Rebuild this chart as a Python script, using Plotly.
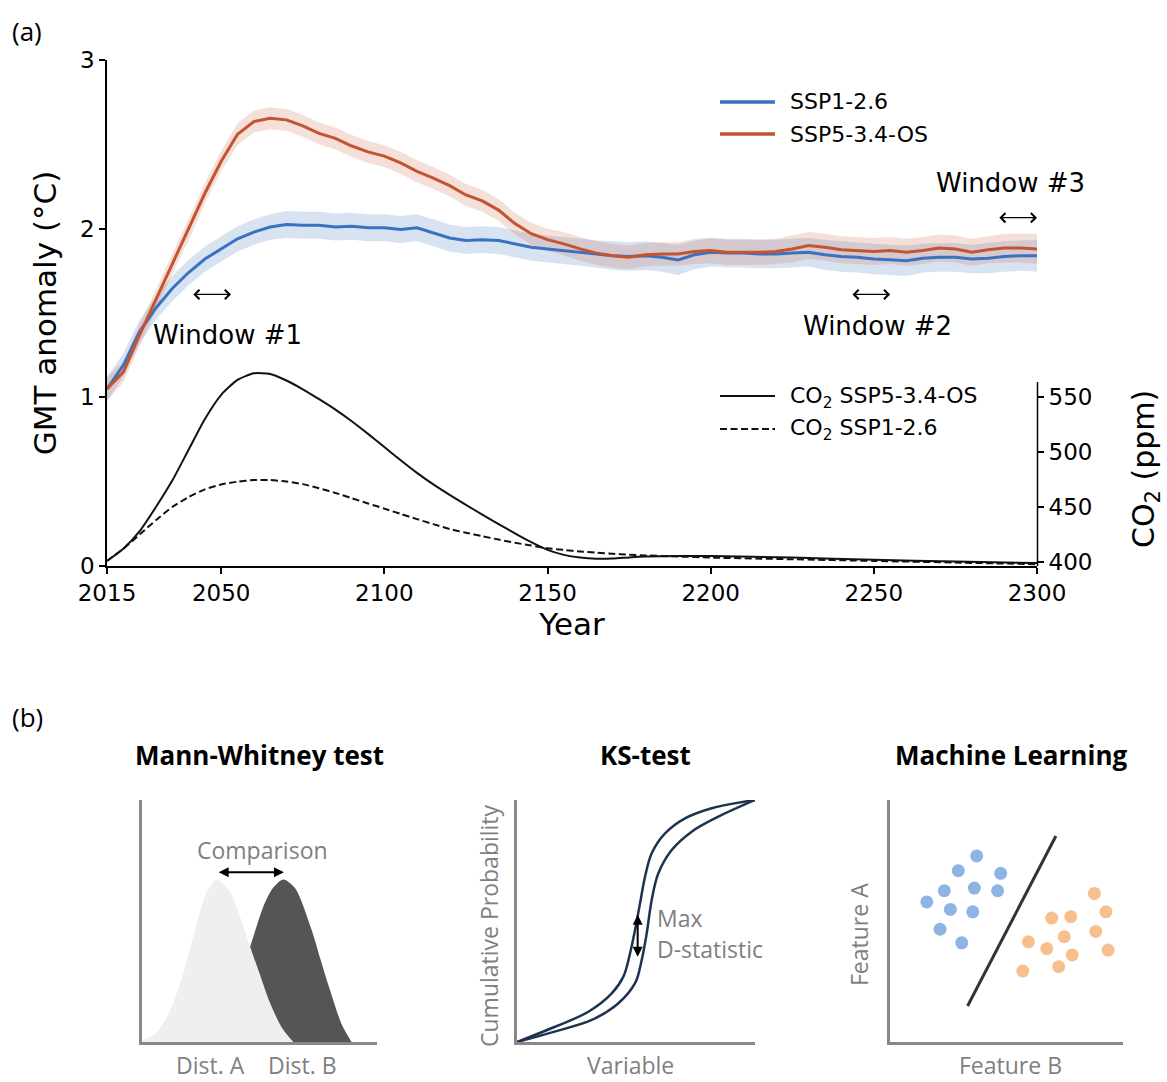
import plotly.graph_objects as go

W, H = 1167, 1082


def fx(p):
    """Horizontal pixel position -> paper fraction."""
    return p / W


def fy(p):
    """Vertical pixel position (from top) -> paper fraction."""
    return 1 - p / H


# ---------------------------------------------------------------- panel (a)
gmt_years = list(range(2015, 2301, 5))

gmt_ssp126 = [
    1.05, 1.19, 1.39, 1.53, 1.645, 1.74, 1.82, 1.88, 1.94, 1.98,
    2.01, 2.025, 2.02, 2.02, 2.01, 2.015, 2.005, 2.005, 1.995, 2.005,
    1.975, 1.945, 1.93, 1.935, 1.93, 1.91, 1.89, 1.88, 1.87, 1.86,
    1.85, 1.84, 1.835, 1.84, 1.83, 1.815, 1.845, 1.86, 1.855, 1.855,
    1.85, 1.85, 1.855, 1.86, 1.845, 1.835, 1.83, 1.82, 1.815, 1.81,
    1.825, 1.83, 1.83, 1.82, 1.825, 1.835, 1.84, 1.84,
]
gmt_ssp534 = [
    1.05, 1.15, 1.37, 1.58, 1.79, 1.99, 2.21, 2.40, 2.56, 2.635,
    2.655, 2.645, 2.61, 2.565, 2.535, 2.49, 2.455, 2.43, 2.39, 2.34,
    2.30, 2.255, 2.20, 2.165, 2.11, 2.03, 1.97, 1.935, 1.91, 1.88,
    1.855, 1.84, 1.83, 1.845, 1.85, 1.85, 1.865, 1.87, 1.86, 1.86,
    1.86, 1.865, 1.88, 1.90, 1.89, 1.875, 1.87, 1.865, 1.87, 1.86,
    1.87, 1.885, 1.88, 1.86, 1.875, 1.885, 1.885, 1.88,
]
spread_ssp126 = [
    0.07, 0.07, 0.07, 0.07, 0.075, 0.075, 0.075, 0.075, 0.075, 0.075,
    0.075, 0.08, 0.08, 0.08, 0.08, 0.08, 0.08, 0.08, 0.08, 0.08,
    0.08, 0.08, 0.08, 0.08, 0.08, 0.08, 0.08, 0.08, 0.08, 0.08,
    0.08, 0.085, 0.085, 0.085, 0.085, 0.09, 0.085, 0.085, 0.085, 0.085,
    0.085, 0.085, 0.085, 0.085, 0.09, 0.09, 0.09, 0.09, 0.09, 0.09,
    0.085, 0.085, 0.085, 0.085, 0.09, 0.09, 0.09, 0.095,
]
spread_ssp534 = [
    0.07, 0.06, 0.06, 0.06, 0.06, 0.06, 0.06, 0.06, 0.065, 0.065,
    0.065, 0.065, 0.065, 0.065, 0.065, 0.065, 0.065, 0.065, 0.065, 0.065,
    0.065, 0.065, 0.065, 0.065, 0.065, 0.065, 0.065, 0.065, 0.07, 0.07,
    0.07, 0.07, 0.07, 0.07, 0.07, 0.07, 0.075, 0.075, 0.075, 0.075,
    0.075, 0.075, 0.08, 0.08, 0.08, 0.08, 0.08, 0.08, 0.08, 0.08,
    0.08, 0.08, 0.08, 0.08, 0.08, 0.085, 0.085, 0.09,
]

co2_years = [2015, 2020, 2025, 2030, 2035, 2040, 2045, 2050, 2055, 2060,
             2065, 2070, 2075, 2080, 2085, 2090, 2095, 2100, 2105, 2110,
             2115, 2120, 2125, 2130, 2135, 2140, 2145, 2150, 2155, 2160,
             2165, 2170, 2175, 2180, 2190, 2200, 2225, 2250, 2275, 2300]
co2_ssp534 = [401, 412, 428, 450, 474, 502, 530, 552, 565.5, 571.5,
              571, 565, 557, 548, 538.5, 528, 516.5, 504.5, 492.5, 481,
              470.5, 461, 452, 443, 434.5, 426, 418, 411, 406.5, 404,
              403, 403.2, 404.2, 405, 405.5, 405.5, 404, 402, 400.5, 399]
co2_ssp126 = [401, 412, 425, 438, 450, 459, 466, 470.5, 473, 474.5,
              474.5, 473.2, 470.8, 467, 462.8, 458, 453.2, 448.5, 443.7, 439,
              434.4, 430, 426.6, 423.5, 420.4, 417.5, 415, 412.5, 411, 409.5,
              408.5, 407.5, 406.7, 406, 405, 404, 402.5, 401, 399.5, 398]

year_ticks = [2015, 2050, 2100, 2150, 2200, 2250, 2300]
gmt_ticks = [0, 1, 2, 3]
co2_ticks = [400, 450, 500, 550]

window_starts = [2041, 2243, 2288]
window_ends = [2053, 2255, 2300]
window_arrow_gmt = [1.61, 1.61, 2.065]
window_labels = ["Window #1", "Window #2", "Window #3"]
window_label_year = [2052, 2251, 2292]
window_label_gmt = [1.37, 1.42, 2.27]

# ---------------------------------------------------------------- panel (b)
mw_a_x = [0.0, 0.5, 1.0, 1.4, 1.76, 2.33, 2.77, 3.2, 3.75, 4.2, 4.6, 5.05, 5.45, 5.96, 6.44]
mw_a_y = [0.05, 0.3, 0.91, 1.8, 2.84, 4.9, 6.24, 6.72, 6.2, 5.1, 3.94, 2.7, 1.61, 0.58, 0.0]
mw_b_x = [2.04, 2.7, 3.32, 3.75, 4.17, 4.6, 5.16, 5.57, 6.01, 6.51, 7.22, 7.6, 8.0, 8.51, 8.92]
mw_b_y = [0.05, 0.6, 1.32, 2.0, 2.77, 3.93, 5.59, 6.36, 6.72, 6.36, 4.63, 3.4, 2.15, 0.7, 0.0]

ks_1_x = [0, 1.6, 3.0, 3.98, 4.47, 4.75, 4.96, 5.17, 5.38, 5.66, 6.22, 7.06, 8.18, 10]
ks_1_y = [0, 0.63, 1.25, 2.01, 2.7, 3.67, 4.63, 5.73, 6.83, 7.8, 8.62, 9.24, 9.66, 10]
ks_2_x = [0, 1.58, 3.14, 4.26, 4.96, 5.24, 5.45, 5.66, 5.94, 6.5, 7.34, 8.46, 10]
ks_2_y = [0, 0.43, 0.91, 1.6, 2.43, 3.39, 4.49, 5.87, 6.97, 7.93, 8.69, 9.31, 10]

ml_blue_x = [3.72, 2.93, 4.75, 2.33, 3.62, 4.62, 1.58, 2.59, 3.55, 2.15, 3.08]
ml_blue_y = [7.69, 7.08, 6.97, 6.25, 6.36, 6.25, 5.79, 5.48, 5.38, 4.66, 4.10]
ml_orange_x = [8.77, 9.27, 6.94, 7.76, 8.83, 7.48, 5.94, 6.73, 9.36, 7.82, 7.24, 5.70]
ml_orange_y = [6.14, 5.38, 5.12, 5.18, 4.57, 4.35, 4.14, 3.86, 3.80, 3.60, 3.11, 2.93]
ml_boundary_x = [3.33, 7.12]
ml_boundary_y = [1.49, 8.51]

# ---------------------------------------------------------------- styling
BLUE = "#3a72c0"
ORANGE = "#c4532f"
BLUE_FILL = "rgba(58,114,192,0.20)"
ORANGE_FILL = "rgba(196,83,47,0.18)"
GRAY_TXT = "#7f7f7f"
GRAY_AX = "#888888"
MPL_FONT = "DejaVu Sans"
SKETCH_FONT = "Open Sans"

fig = go.Figure()


def band(years, mid, spread, color, name):
    upper = [m + s for m, s in zip(mid, spread)]
    lower = [m - s for m, s in zip(mid, spread)]
    return go.Scatter(
        x=years + years[::-1], y=upper + lower[::-1], fill="toself",
        fillcolor=color, line=dict(width=0), mode="lines",
        hoverinfo="skip", showlegend=False, name=name,
        xaxis="x", yaxis="y",
    )


fig.add_trace(band(gmt_years, gmt_ssp126, spread_ssp126, BLUE_FILL, "SSP1-2.6 range"))
fig.add_trace(band(gmt_years, gmt_ssp534, spread_ssp534, ORANGE_FILL, "SSP5-3.4-OS range"))
fig.add_trace(go.Scatter(x=gmt_years, y=gmt_ssp126, mode="lines", name="SSP1-2.6",
                         line=dict(color=BLUE, width=3), showlegend=False,
                         xaxis="x", yaxis="y"))
fig.add_trace(go.Scatter(x=gmt_years, y=gmt_ssp534, mode="lines", name="SSP5-3.4-OS",
                         line=dict(color=ORANGE, width=3), showlegend=False,
                         xaxis="x", yaxis="y"))
fig.add_trace(go.Scatter(x=co2_years, y=co2_ssp534, mode="lines", name="CO2 SSP5-3.4-OS",
                         line=dict(color="#111111", width=2, shape="spline", smoothing=0.6),
                         showlegend=False, xaxis="x", yaxis="y2"))
fig.add_trace(go.Scatter(x=co2_years, y=co2_ssp126, mode="lines", name="CO2 SSP1-2.6",
                         line=dict(color="#111111", width=2, shape="spline", smoothing=0.6,
                                   dash="7px,3.5px"),
                         showlegend=False, xaxis="x", yaxis="y2"))

# Mann-Whitney sketch: dark distribution behind the light one
fig.add_trace(go.Scatter(x=mw_b_x, y=mw_b_y, mode="lines", fill="tozeroy",
                         fillcolor="#555555", line=dict(width=0, shape="spline", smoothing=0.8),
                         showlegend=False, hoverinfo="skip", xaxis="x3", yaxis="y3"))
fig.add_trace(go.Scatter(x=mw_a_x, y=mw_a_y, mode="lines", fill="tozeroy",
                         fillcolor="#efefef", line=dict(width=0, shape="spline", smoothing=0.8),
                         showlegend=False, hoverinfo="skip", xaxis="x3", yaxis="y3"))

# KS sketch: two cumulative curves
for cx, cy in ((ks_1_x, ks_1_y), (ks_2_x, ks_2_y)):
    fig.add_trace(go.Scatter(x=cx, y=cy, mode="lines",
                             line=dict(color="#1d3350", width=2.5, shape="spline"),
                             showlegend=False, hoverinfo="skip", xaxis="x4", yaxis="y4"))

# Machine learning sketch: two clusters and a boundary
fig.add_trace(go.Scatter(x=ml_boundary_x, y=ml_boundary_y, mode="lines",
                         line=dict(color="#333333", width=3),
                         showlegend=False, hoverinfo="skip", xaxis="x5", yaxis="y5"))
fig.add_trace(go.Scatter(x=ml_blue_x, y=ml_blue_y, mode="markers",
                         marker=dict(color="#8db4e3", size=13, line=dict(width=0)),
                         showlegend=False, xaxis="x5", yaxis="y5"))
fig.add_trace(go.Scatter(x=ml_orange_x, y=ml_orange_y, mode="markers",
                         marker=dict(color="#f8bf8e", size=13, line=dict(width=0)),
                         showlegend=False, xaxis="x5", yaxis="y5"))

# ---------------------------------------------------------------- axes
tick_font = dict(family=MPL_FONT, size=23, color="black")
top_y = [fy(566), fy(60)]

sketch_axis = dict(range=[0, 10], showline=True, linecolor=GRAY_AX, linewidth=3,
                   showticklabels=False, ticks="", showgrid=False, zeroline=False,
                   automargin=False)
sketch_y = [fy(1042), fy(800)]

fig.update_layout(
    width=W, height=H,
    margin=dict(l=0, r=0, t=0, b=0, autoexpand=False),
    paper_bgcolor="white", plot_bgcolor="rgba(0,0,0,0)",
    showlegend=False,
    xaxis=dict(domain=[fx(107), fx(1037)], range=[2015, 2300], anchor="y",
               tickvals=year_ticks, ticks="outside", ticklen=6, tickwidth=1.5,
               tickcolor="black", showline=True, linecolor="black", linewidth=1.5,
               showgrid=False, zeroline=False, tickfont=tick_font, automargin=False,
               title=dict(text="Year", font=dict(family=MPL_FONT, size=31, color="black"),
                          standoff=3)),
    yaxis=dict(domain=top_y, range=[0, 3], anchor="x",
               tickvals=gmt_ticks, ticks="outside", ticklen=6, tickwidth=1.5,
               tickcolor="black", showline=True, linecolor="black", linewidth=1.5,
               showgrid=False, zeroline=False, tickfont=tick_font, automargin=False,
               title=dict(text="GMT anomaly (°C)",
                          font=dict(family=MPL_FONT, size=31, color="black"),
                          standoff=14)),
    yaxis2=dict(overlaying="y", side="right", anchor="x",
                range=[396.36, 856.36], tickvals=co2_ticks, automargin=False,
                ticks="outside", ticklen=6, tickwidth=1.5, tickcolor="black",
                showline=False, showgrid=False, zeroline=False, tickfont=tick_font),
    xaxis3=dict(domain=[fx(142), fx(377)], anchor="y3", **sketch_axis),
    yaxis3=dict(domain=sketch_y, anchor="x3", **sketch_axis),
    xaxis4=dict(domain=[fx(517), fx(755)], anchor="y4", **sketch_axis),
    yaxis4=dict(domain=sketch_y, anchor="x4", **sketch_axis),
    xaxis5=dict(domain=[fx(890), fx(1123)], anchor="y5", **sketch_axis),
    yaxis5=dict(domain=sketch_y, anchor="x5", **sketch_axis),
)

shapes = [
    # CO2 axis spine covers only the lower part of the panel
    dict(type="line", xref="paper", yref="paper", x0=fx(1037.5), x1=fx(1037.5),
         y0=fy(566), y1=fy(382), line=dict(color="black", width=1.5)),
    # legend swatches
    dict(type="line", xref="paper", yref="paper", x0=fx(720), x1=fx(775),
         y0=fy(102), y1=fy(102), line=dict(color=BLUE, width=3.5)),
    dict(type="line", xref="paper", yref="paper", x0=fx(720), x1=fx(775),
         y0=fy(134), y1=fy(134), line=dict(color=ORANGE, width=3.5)),
    dict(type="line", xref="paper", yref="paper", x0=fx(720), x1=fx(775),
         y0=fy(396), y1=fy(396), line=dict(color="#111111", width=2)),
    dict(type="line", xref="paper", yref="paper", x0=fx(720), x1=fx(775),
         y0=fy(429), y1=fy(429), line=dict(color="#111111", width=2, dash="7px,3.5px")),
]
fig.update_layout(shapes=shapes)

annotations = []


def text(t, xp, yp, size, color="black", family=MPL_FONT, xanchor="center",
         angle=0):
    annotations.append(dict(
        text=t, x=fx(xp), y=fy(yp), xref="paper", yref="paper",
        xanchor=xanchor, yanchor="middle", showarrow=False, textangle=angle,
        font=dict(family=family, size=size, color=color)))


text("(a)", 27, 31, 26, family=SKETCH_FONT)
text("(b)", 27, 717, 26, family=SKETCH_FONT)
text("SSP1-2.6", 788, 102, 22, xanchor="left")
text("SSP5-3.4-OS", 788, 134, 22, xanchor="left")
text("CO<sub>2</sub> SSP5-3.4-OS", 788, 397, 22, xanchor="left")
text("CO<sub>2</sub> SSP1-2.6", 788, 430, 22, xanchor="left")
text("CO<sub>2</sub> (ppm)", 1145, 469, 30, angle=-90)

for lbl, lx, ly in zip(window_labels, window_label_year, window_label_gmt):
    annotations.append(dict(text=lbl, x=lx, y=ly, xref="x", yref="y",
                            showarrow=False, xanchor="center", yanchor="middle",
                            font=dict(family=MPL_FONT, size=26, color="black")))
for s, e, g in zip(window_starts, window_ends, window_arrow_gmt):
    annotations.append(dict(text="", x=e, y=g, ax=s, ay=g, xref="x", yref="y",
                            axref="x", ayref="y", showarrow=True,
                            arrowhead=4, startarrowhead=4, arrowside="end+start",
                            arrowsize=1.4, startarrowsize=1.4, arrowwidth=1.3,
                            arrowcolor="black", standoff=0, startstandoff=0))

# panel (b) titles and labels
text("<b>Mann-Whitney test</b>", 259, 755, 26, family=SKETCH_FONT)
text("<b>KS-test</b>", 645, 755, 26, family=SKETCH_FONT)
text("<b>Machine Learning</b>", 1011, 755, 26, family=SKETCH_FONT)
text("Comparison", 262, 850, 23, GRAY_TXT, SKETCH_FONT)
text("Dist. A", 210, 1065, 23, GRAY_TXT, SKETCH_FONT)
text("Dist. B", 302, 1065, 23, GRAY_TXT, SKETCH_FONT)
text("Cumulative Probability", 489, 926, 23, GRAY_TXT, SKETCH_FONT, angle=-90)
text("Max", 655, 918, 23, GRAY_TXT, SKETCH_FONT, xanchor="left")
text("D-statistic", 655, 949, 23, GRAY_TXT, SKETCH_FONT, xanchor="left")
text("Variable", 630, 1065, 23, GRAY_TXT, SKETCH_FONT)
text("Feature A", 859, 935, 23, GRAY_TXT, SKETCH_FONT, angle=-90)
text("Feature B", 1010, 1065, 23, GRAY_TXT, SKETCH_FONT)

annotations.append(dict(text="", x=6.04, y=7.01, ax=3.2, ay=7.01, xref="x3", yref="y3",
                        axref="x3", ayref="y3", showarrow=True, arrowhead=2,
                        startarrowhead=2, arrowside="end+start", arrowsize=1,
                        startarrowsize=1, arrowwidth=2, arrowcolor="black",
                        standoff=0, startstandoff=0))
annotations.append(dict(text="", x=5.07, y=3.52, ax=5.07, ay=5.32, xref="x4", yref="y4",
                        axref="x4", ayref="y4", showarrow=True, arrowhead=2,
                        startarrowhead=2, arrowside="end+start", arrowsize=1,
                        startarrowsize=1, arrowwidth=2, arrowcolor="black",
                        standoff=0, startstandoff=0))

fig.update_layout(annotations=annotations)

fig.write_html("out.html")
